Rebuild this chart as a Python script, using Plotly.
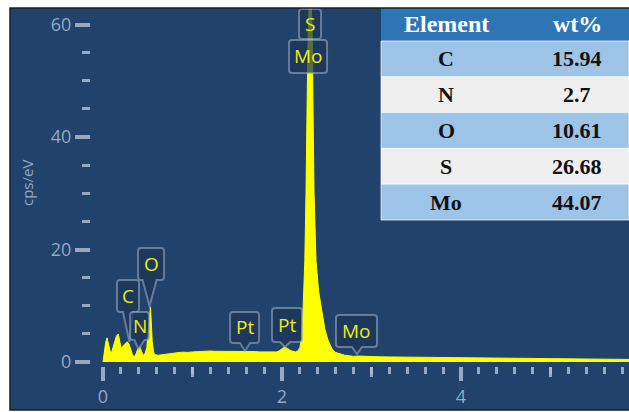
import plotly.graph_objects as go

# ---------------- data ----------------
energy_kev = [0.00, 0.01, 0.03, 0.045, 0.06, 0.08, 0.095, 0.11, 0.13, 0.15, 0.17, 0.185,
              0.205, 0.225, 0.25, 0.27, 0.29, 0.31, 0.33, 0.35, 0.37, 0.39, 0.41, 0.43,
              0.45, 0.47, 0.49, 0.505, 0.52, 0.53, 0.54, 0.55, 0.565, 0.58, 0.62, 0.66,
              0.70, 0.75, 0.80, 0.85, 0.90, 0.95, 1.00, 1.05, 1.10, 1.15, 1.20, 1.25,
              1.30, 1.35, 1.40, 1.45, 1.50, 1.55, 1.60, 1.65, 1.70, 1.75, 1.80, 1.85,
              1.90, 1.94, 1.97, 2.00, 2.03, 2.06, 2.10, 2.15, 2.18, 2.20, 2.215, 2.235,
              2.255, 2.268, 2.276, 2.288, 2.30, 2.315, 2.33, 2.342, 2.345, 2.358, 2.38,
              2.41, 2.444, 2.48, 2.514, 2.56, 2.60, 2.65, 2.70, 2.75, 2.80, 2.85, 2.90,
              3.00, 3.10, 3.20, 3.30, 3.40, 3.50, 3.60, 3.70, 3.80, 3.90, 4.00, 4.15,
              4.30, 4.45, 4.60, 4.80, 5.00, 5.20, 5.40, 5.60, 5.90]
counts_cps_ev = [0.0, 1.5, 3.5, 4.3, 3.0, 1.9, 1.7, 2.6, 3.8, 4.6, 5.0, 3.6,
                 2.3, 2.9, 3.4, 3.6, 3.2, 2.2, 1.3, 0.9, 1.5, 2.4, 2.7, 1.9,
                 1.2, 1.5, 2.6, 5.5, 8.6, 9.8, 7.0, 3.6, 1.8, 1.3, 1.2, 1.3,
                 1.4, 1.5, 1.6, 1.7, 1.75, 1.7, 1.8, 1.85, 1.9, 1.85, 1.95, 1.9,
                 1.9, 1.95, 1.9, 1.85, 1.85, 1.9, 1.9, 1.85, 1.85, 1.8, 1.8, 1.75,
                 1.75, 1.8, 2.0, 2.3, 2.7, 2.4, 2.0, 1.8, 2.0, 2.6, 3.9, 9.2,
                 18.0, 30.0, 47.0, 55.0, 62.0, 66.0, 62.0, 55.0, 47.0, 30.0, 18.0,
                 12.5, 9.2, 5.8, 3.9, 2.3, 1.7, 1.4, 1.2, 1.1, 1.0, 1.05, 1.0,
                 0.95, 0.92, 0.9, 0.88, 0.85, 0.82, 0.8, 0.78, 0.75, 0.72, 0.7, 0.68,
                 0.65, 0.62, 0.6, 0.58, 0.55, 0.52, 0.5, 0.48, 0.45]

peak_labels = ["C", "N", "O", "Pt", "Pt", "Mo", "S", "Mo"]
peak_label_energy = [0.296, 0.397, 0.52, 1.587, 2.034, 2.838, 2.313, 2.291]
peak_label_value = [3.56, 2.3, 9.96, 1.96, 2.67, 1.42, 57.42, 51.38]

table_header = ["Element", "wt%"]
table_elements = ["C", "N", "O", "S", "Mo"]
table_wt = [15.94, 2.7, 10.61, 26.68, 44.07]

# ---------------- layout constants (pixels) ----------------
W, H = 629, 412
L, R, T, B = 91, 0, 8, 46
PW, PH = W - L - R, H - T - B


def px(x):
    return (x - L) / PW


def py(y):
    return (H - B - y) / PH


PANEL = "#21436B"
TICK = "rgba(172,188,210,0.85)"
LABEL_TXT = "#ECEC12"

# callout geometry: (dx0, dx1, dy0, dy1, pointer_center, pointer_halfwidth, has_pointer)
callouts = [(-12.5, 9.5, 30, 62, -1.5, 5, True),
            (-8.5, 10.5, 9, 37, 1, 5, True),
            (-11.5, 14.5, 26, 58, 0, 7, True),
            (-15, 14, 8, 39, 0, 5, True),
            (-13, 17, 5, 39, 0, 5, True),
            (-21, 20, 7, 39, 0, 5, True),
            (-11, 11, 0, 30, 0, 0, False),
            (-19, 19, 0, 33, 0, 0, False)]

fig = go.Figure()
fig.add_trace(go.Scatter(x=energy_kev, y=counts_cps_ev, mode="lines",
                         line=dict(color="#FFFF00", width=1),
                         fill="tozeroy", fillcolor="#FFFF00",
                         hoverinfo="skip", showlegend=False))
fig.add_trace(go.Scatter(x=energy_kev, y=counts_cps_ev, mode="none", xaxis="x2",
                         hoverinfo="skip", showlegend=False))

shapes = []
# dark panel
shapes.append(dict(type="rect", xref="paper", yref="paper", x0=px(10), x1=px(640),
                   y0=py(410), y1=py(8), fillcolor=PANEL, line=dict(width=0), layer="below"))

annotations = []
r = 3
for name, e, v, (a, b, c, d, pc, hw, ptr) in zip(peak_labels, peak_label_energy,
                                                  peak_label_value, callouts):
    path = f"M {a+r},{d} L {b-r},{d} Q {b},{d} {b},{d-r} L {b},{c+r} Q {b},{c} {b-r},{c} "
    if ptr:
        path += f"L {pc+hw},{c} L 0,0 L {pc-hw},{c} "
    path += f"L {a+r},{c} Q {a},{c} {a},{c+r} L {a},{d-r} Q {a},{d} {a+r},{d} Z"
    shapes.append(dict(type="path", xref="x", yref="y", xsizemode="pixel", ysizemode="pixel",
                       xanchor=e, yanchor=v, path=path,
                       fillcolor="rgba(26,52,88,0.72)",
                       line=dict(color="rgba(150,166,190,0.6)", width=2), layer="above"))
    annotations.append(dict(x=e, y=v, xref="x", yref="y", showarrow=False, text=name,
                            xanchor="center", yanchor="middle",
                            xshift=(a + b) / 2, yshift=(c + d) / 2,
                            font=dict(family="Open Sans", size=19, color=LABEL_TXT)))

# table
tx0, tx1 = 381, 629
header_y0, header_y1 = 8, 41
row_h = 35.8
shapes.append(dict(type="rect", xref="paper", yref="paper", x0=px(tx0), x1=px(tx1),
                   y0=py(header_y1), y1=py(header_y0), fillcolor="#2E75B6",
                   line=dict(width=0), layer="above"))
for i, (el, wt) in enumerate(zip(table_elements, table_wt)):
    y0 = header_y1 + i * row_h
    y1 = y0 + row_h
    shapes.append(dict(type="rect", xref="paper", yref="paper", x0=px(tx0), x1=px(tx1),
                       y0=py(y1), y1=py(y0),
                       fillcolor="#9DC3E6" if i % 2 == 0 else "#EFEFEF",
                       line=dict(color="rgba(255,255,255,0.7)", width=1), layer="above"))
    yc = py((y0 + y1) / 2)
    annotations.append(dict(x=px(446), y=yc, xref="paper", yref="paper", showarrow=False,
                            xanchor="center", yanchor="middle", text=f"<b>{el}</b>",
                            font=dict(family="Liberation Serif", size=22, color="#111111")))
    annotations.append(dict(x=px(577), y=yc, xref="paper", yref="paper", showarrow=False,
                            xanchor="center", yanchor="middle", text=f"<b>{wt}</b>",
                            font=dict(family="Liberation Serif", size=22, color="#111111")))
for txt, xc in zip(table_header, [446, 577]):
    annotations.append(dict(x=px(xc), y=py((header_y0 + header_y1) / 2), xref="paper",
                            yref="paper", showarrow=False, xanchor="center",
                            yanchor="middle", text=f"<b>{txt}</b>",
                            font=dict(family="Liberation Serif", size=24, color="white")))

# panel border
shapes.append(dict(type="path", xref="paper", yref="paper",
                   path=f"M {px(700)},{py(8)} L {px(10)},{py(8)} L {px(10)},{py(410)} L {px(700)},{py(410)}",
                   line=dict(color="#15202E", width=1.5), layer="above"))

# y axis title
annotations.append(dict(x=px(27), y=py(183), xref="paper", yref="paper", showarrow=False,
                        xanchor="center", yanchor="middle",
                        text="cps/eV", textangle=-90,
                        font=dict(family="Open Sans", size=15, color=TICK)))

fig.update_layout(
    width=W, height=H, margin=dict(l=L, r=R, t=T, b=B),
    paper_bgcolor="white", plot_bgcolor=PANEL,
    shapes=shapes, annotations=annotations, showlegend=False,
    xaxis=dict(range=[-12 / 89.5, -12 / 89.5 + PW / 89.5], tick0=0, dtick=2,
               showgrid=False, zeroline=False, showline=False,
               ticks="outside", ticklen=14, tickwidth=4, tickcolor=TICK,
               tickfont=dict(family="Open Sans", size=18, color=TICK),
               minor=dict(ticks="outside", dtick=0.2, tick0=0, ticklen=7, tickwidth=3,
                          tickcolor=TICK, showgrid=False)),
    xaxis2=dict(overlaying="x", matches="x", anchor="y", side="bottom",
                tickvals=[1, 3, 5], showticklabels=False, showgrid=False, zeroline=False,
                ticks="outside", ticklen=10, tickwidth=3, tickcolor=TICK),
    yaxis=dict(range=[-4 / 5.625, -4 / 5.625 + PH / 5.625], tick0=0, dtick=20,
               showgrid=False, zeroline=False, showline=False,
               ticks="outside", ticklen=15, tickwidth=4, tickcolor=TICK,
               tickfont=dict(family="Open Sans", size=18, color=TICK),
               minor=dict(ticks="outside", dtick=5, tick0=0, ticklen=8, tickwidth=3,
                          tickcolor=TICK, showgrid=False)),
)

fig.write_html("out.html", config={"displayModeBar": False},
               post_script="document.body.style.margin='0px';")
